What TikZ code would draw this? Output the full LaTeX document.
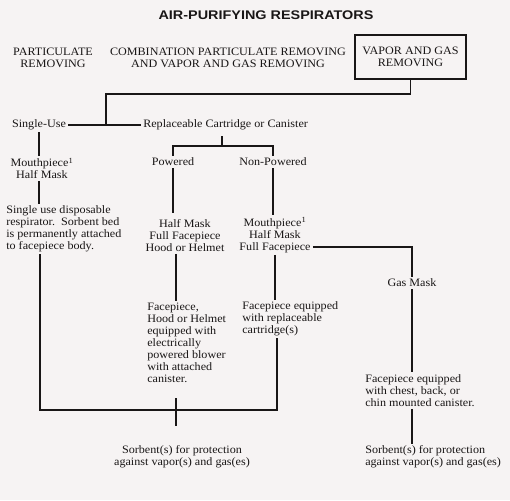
\documentclass[tikz,border=0pt]{standalone}
\usepackage{fontspec}
\setmainfont[FakeStretch=1.07]{Liberation Serif}
\setsansfont[FakeStretch=1.15]{Liberation Sans}
\usetikzlibrary{calc}
\definecolor{bgc}{RGB}{246,243,243}
\definecolor{ink}{RGB}{25,22,22}
\begin{document}
\begin{tikzpicture}[x=0.75pt,y=-0.75pt,
  txt/.style={font=\fontsize{8.5}{9}\selectfont, inner sep=1.5pt, align=center, text=ink},
  lft/.style={txt, anchor=west, align=left},
  ttl/.style={font=\sffamily\bfseries\fontsize{9.4}{11}\selectfont, inner sep=1pt, text=ink},
  ln/.style={line width=1.1pt, draw=ink},
]
\fill[bgc] (0,0) rectangle (510,500);
\useasboundingbox (0,0) rectangle (510,500);

\node[ttl] (title) at (266,15) {AIR-PURIFYING RESPIRATORS};
\node[txt] (part) at (53,58) {PARTICULATE\\REMOVING};
\node[txt] (comb) at (228,58) {COMBINATION PARTICULATE REMOVING\\AND VAPOR AND GAS REMOVING};
\node[txt, draw=ink, line width=1.3pt, minimum width=83.25pt, minimum height=33pt] (vg) at (410.5,57) {VAPOR AND GAS\\REMOVING};

\node[txt] (single) at (39,125) {Single-Use};
\node[lft] (repl) at (141,125) {Replaceable Cartridge or Canister};
\node[txt] (mouth) at (42,168.5) {Mouthpiece\textsuperscript{1}\\Half Mask};
\node[lft] (sdesc) at (4,229) {Single use disposable\\respirator.\ \ Sorbent bed\\is permanently attached\\to facepiece body.};
\node[txt] (pow) at (173,162) {Powered};
\node[txt] (npow) at (273,162) {Non-Powered};
\node[txt] (pmask) at (185,235.5) {Half Mask\\Full Facepiece\\Hood or Helmet};
\node[txt] (nmask) at (275,235) {Mouthpiece\textsuperscript{1}\\Half Mask\\Full Facepiece};
\node[txt] (gas) at (412,283) {Gas Mask};
\node[lft] (pdesc) at (145,343) {Facepiece,\\Hood or Helmet\\equipped with\\electrically\\powered blower\\with attached\\canister.};
\node[lft] (ndesc) at (240,319) {Facepiece equipped\\with replaceable\\cartridge(s)};
\node[lft] (gdesc) at (363,390.5) {Facepiece equipped\\with chest, back, or\\chin mounted canister.};
\node[txt] (sorb1) at (182,457) {Sorbent(s) for protection\\against vapor(s) and gas(es)};
\node[lft] (sorb2) at (363,457) {Sorbent(s) for protection\\against vapor(s) and gas(es)};

\coordinate (k) at (106,94);
\coordinate (j) at (106,125);
\coordinate (cb) at (222,146);
\coordinate (bl) at (40,410);
\coordinate (br) at (277,410);
\coordinate (pc) at (176,410);

\draw[ln] (vg.south) |- (k) -- (j);
\draw[ln] (single) -- (repl);
\draw[ln, shorten <=3pt] (repl.south -| cb) -- (cb);
\draw[ln] (pow.north) |- (cb) -| (npow.north);
\draw[ln] (single.south) -- (single.south |- mouth.north);
\draw[ln] (single.south |- mouth.south) -- (single.south |- sdesc.north);
\draw[ln] (bl |- sdesc.south) -- (bl) -- (br) -- (br |- ndesc.south);
\draw[ln, shorten >=3pt] (pow.south) -- (pow.south |- pmask.north);
\draw[ln] (npow.south) -- (npow.south |- nmask.north);
\draw[ln] (pc |- pmask.south) -- (pc |- pdesc.north);
\draw[ln] (nmask.south) -- (nmask.south |- ndesc.north);
\draw[ln, shorten <=10pt, shorten >=13.5pt] (pc |- pdesc.south) -- (pc |- sorb1.north);
\draw[ln] ($(nmask.south east)+(0,-8)$) -| (gas.north);
\draw[ln] (gas.south) -- (gas.south |- gdesc.north);
\draw[ln] (gas.south |- gdesc.south) -- (gas.south |- sorb2.north);
\end{tikzpicture}
\end{document}
